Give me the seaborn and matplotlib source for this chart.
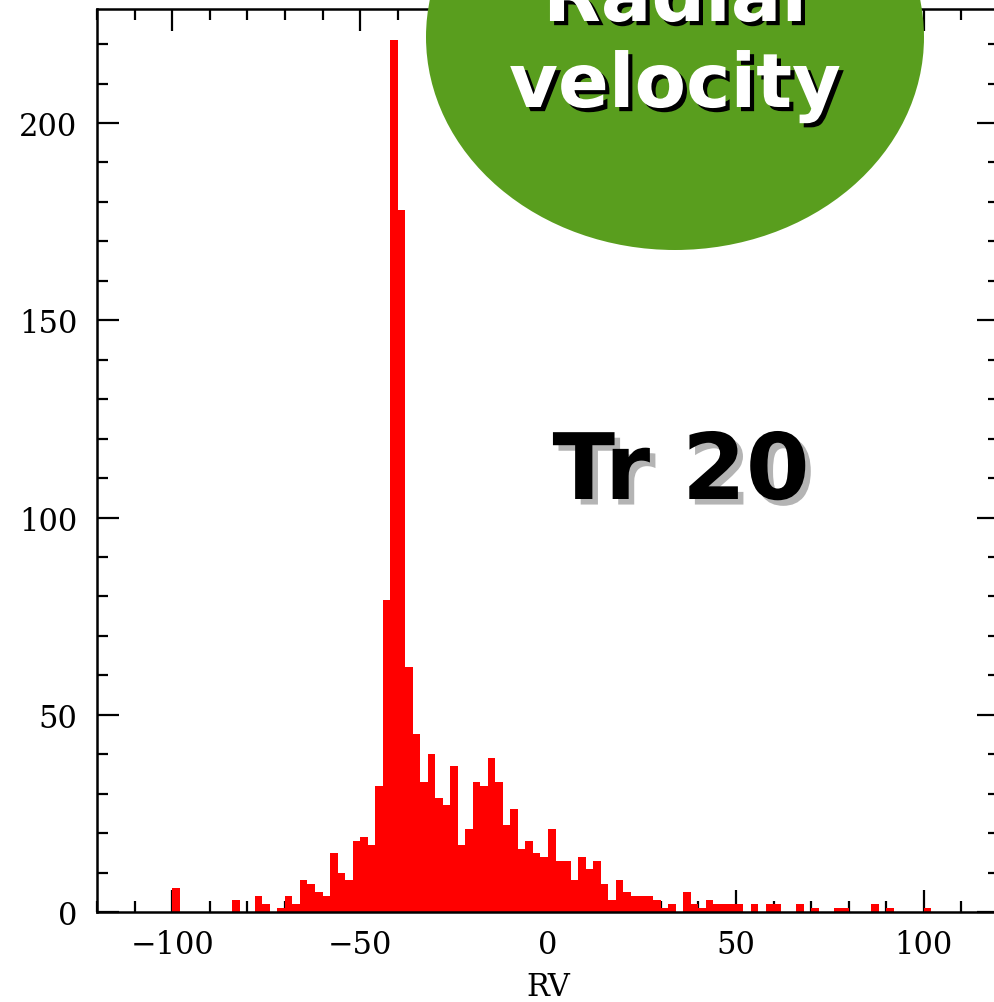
import numpy as np
import pandas as pd
import matplotlib
matplotlib.use("Agg")
import matplotlib.pyplot as plt
import matplotlib.patheffects as pe
from matplotlib.patches import Ellipse
from matplotlib.ticker import MultipleLocator
import seaborn as sns

# ---- data: histogram of radial velocities (bin width 2 km/s) ----
bin_left = list(range(-100, 102, 2))
counts = [
    6, 0, 0, 0, 0, 0, 0, 0,            # -100 .. -86
    3, 0, 0, 4, 2, 0, 1, 4, 2,         # -84 .. -68
    8, 7, 5, 4, 15, 10, 8, 18, 19, 17, # -66 .. -48
    32, 79, 221, 178, 62, 45, 33, 40,  # -46 .. -32
    29, 27, 37, 17, 21, 33, 32, 39,    # -30 .. -16
    33, 22, 26, 16, 18, 15, 14,        # -14 .. -2
    21, 13, 13, 8, 14, 11, 13, 7,      # 0 .. 14
    3, 8, 5, 4, 4, 4, 3, 1, 2, 0,      # 16 .. 34
    5, 2, 1, 3, 2, 2, 2, 2, 0, 2,      # 36 .. 54
    0, 2, 2, 0, 0, 2, 0, 1, 0, 0,      # 56 .. 74
    1, 1, 0, 0, 0, 2, 0, 1, 0, 0,      # 76 .. 94
    0, 0, 1,                           # 96 .. 100
]
assert len(counts) == len(bin_left)
x_ticks = [-100, -50, 0, 50, 100]
y_ticks = [0, 50, 100, 150, 200]
x_label = "RV"
badge_lines = ["Radial", "velocity"]
cluster_text = "Tr 20"

df = pd.DataFrame({"rv": np.array(bin_left) + 1.0, "n": counts})

sns.set_style("ticks")
plt.rcParams["font.family"] = ["DejaVu Serif"]
plt.rcParams["text.color"] = "black"
plt.rcParams["axes.labelcolor"] = "black"
plt.rcParams["xtick.labelcolor"] = "black"
plt.rcParams["ytick.labelcolor"] = "black"

fig = plt.figure(figsize=(9.94, 10.03), dpi=100)
ax = fig.add_axes([97 / 994, 90 / 1003, 902 / 994, 903 / 1003])

sns.histplot(data=df, x="rv", weights="n", binwidth=2, binrange=(-100, 102),
             color="#ff0000", alpha=1, linewidth=0, element="bars", ax=ax)

ax.set_xlim(-120, 120)
ax.set_ylim(0, 228.9)
ax.set_xticks(x_ticks)
ax.set_yticks(y_ticks)
ax.xaxis.set_minor_locator(MultipleLocator(10))
ax.yaxis.set_minor_locator(MultipleLocator(10))
ax.set_xticklabels([f"{v:d}".replace("-", "\u2212") for v in x_ticks])
ax.set_yticklabels([str(v) for v in y_ticks])
ax.set_xlabel(x_label, fontsize=22, labelpad=8, color="black")
ax.set_ylabel("")

for s in ax.spines.values():
    s.set_visible(True)
    s.set_linewidth(1.8)
    s.set_color("black")
ax.tick_params(which="both", direction="in", top=True, right=True,
               width=1.6, color="black", labelsize=22, labelcolor="black")
ax.tick_params(which="major", length=16, pad=12)
ax.tick_params(which="minor", length=8)
ax.tick_params(axis="y", which="major", pad=14)

# green badge
ell = Ellipse((675 / 994, 1 - 38 / 1003), 498 / 994, 426 / 1003,
              transform=fig.transFigure, facecolor="#599e1e",
              edgecolor="none", zorder=5)
fig.add_artist(ell)
shadow_k = [pe.withSimplePatchShadow(offset=(3, -3), shadow_rgbFace="black",
                                     alpha=1)]
for line, base_y in zip(badge_lines, [22, 108]):
    fig.text(675 / 994, 1 - base_y / 1003, line, ha="center", va="baseline",
             family="DejaVu Sans", fontweight="bold", fontsize=54,
             color="white", zorder=6, path_effects=shadow_k)

fig.text(681 / 994, 1 - 474 / 1003, cluster_text, ha="center", va="center",
         family="DejaVu Sans", fontweight="bold", fontsize=66, color="black",
         zorder=6,
         path_effects=[pe.withSimplePatchShadow(offset=(4, -4),
                                                shadow_rgbFace="#b4b4b4",
                                                alpha=1)])

fig.savefig("out.png", dpi=100)
